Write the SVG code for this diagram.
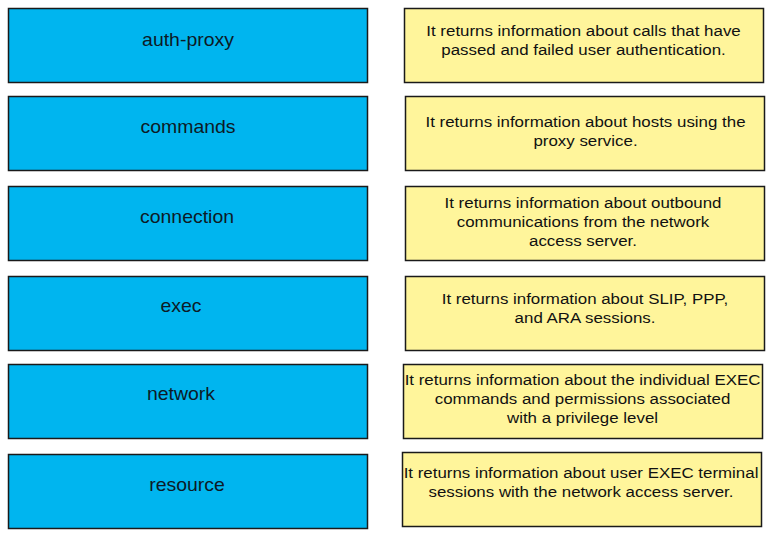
<svg xmlns="http://www.w3.org/2000/svg" width="772" height="536" viewBox="0 0 772 536">
<style>
.k rect{fill:#00B5EF;stroke:#1a1a1a;stroke-width:1.5}
.d rect{fill:#FFF59B;stroke:#1a1a1a;stroke-width:1.5}
.k text{font-family:"Liberation Sans",Arial,sans-serif;font-size:18px;fill:#0d1a26;text-anchor:middle}
.d text{font-family:"Liberation Sans",Arial,sans-serif;font-size:15.5px;fill:#111;text-anchor:middle}
</style>
<rect width="772" height="536" fill="#fff"/>
<g id="k1" class="k"><rect x="8.5" y="8.5" width="359" height="74"/><g transform="translate(188 0) scale(1.08 1)"><text x="0" y="46">auth-proxy</text></g></g>
<g id="k2" class="k"><rect x="8.5" y="96.5" width="359" height="74"/><g transform="translate(188 0) scale(1.08 1)"><text x="0" y="133">commands</text></g></g>
<g id="k3" class="k"><rect x="8.5" y="186.5" width="359" height="74"/><g transform="translate(187 0) scale(1.08 1)"><text x="0" y="223">connection</text></g></g>
<g id="k4" class="k"><rect x="8.5" y="276.5" width="359" height="74"/><g transform="translate(181 0) scale(1.08 1)"><text x="0" y="312">exec</text></g></g>
<g id="k5" class="k"><rect x="8.5" y="364.5" width="359" height="74"/><g transform="translate(181 0) scale(1.08 1)"><text x="0" y="400">network</text></g></g>
<g id="k6" class="k"><rect x="8.5" y="454.5" width="359" height="74"/><g transform="translate(187 0) scale(1.08 1)"><text x="0" y="491">resource</text></g></g>
<g id="d1" class="d"><rect x="404.5" y="8.5" width="359" height="74"/><g transform="translate(583.5 0) scale(1.09 1)"><text x="0" y="36">It returns information about calls that have</text><text x="0" y="55">passed and failed user authentication.</text></g></g>
<g id="d2" class="d"><rect x="405.5" y="96.5" width="359" height="74"/><g transform="translate(585.5 0) scale(1.09 1)"><text x="0" y="127">It returns information about hosts using the</text><text x="0" y="146">proxy service.</text></g></g>
<g id="d3" class="d"><rect x="405.5" y="186.5" width="359" height="74"/><g transform="translate(583 0) scale(1.09 1)"><text x="0" y="208">It returns information about outbound</text><text x="0" y="227">communications from the network</text><text x="0" y="246">access server.</text></g></g>
<g id="d4" class="d"><rect x="405.5" y="276.5" width="359" height="74"/><g transform="translate(585 0) scale(1.09 1)"><text x="0" y="304">It returns information about SLIP, PPP,</text><text x="0" y="323">and ARA sessions.</text></g></g>
<g id="d5" class="d"><rect x="403.5" y="364.5" width="359" height="74"/><g transform="translate(582.5 0) scale(1.09 1)"><text x="0" y="385">It returns information about the individual EXEC</text><text x="0" y="404">commands and permissions associated</text><text x="0" y="423">with a privilege level</text></g></g>
<g id="d6" class="d"><rect x="402.5" y="452.5" width="359" height="74"/><g transform="translate(581 0) scale(1.09 1)"><text x="0" y="478">It returns information about user EXEC terminal</text><text x="0" y="497">sessions with the network access server.</text></g></g>
<g id="connectors"/>
</svg>
